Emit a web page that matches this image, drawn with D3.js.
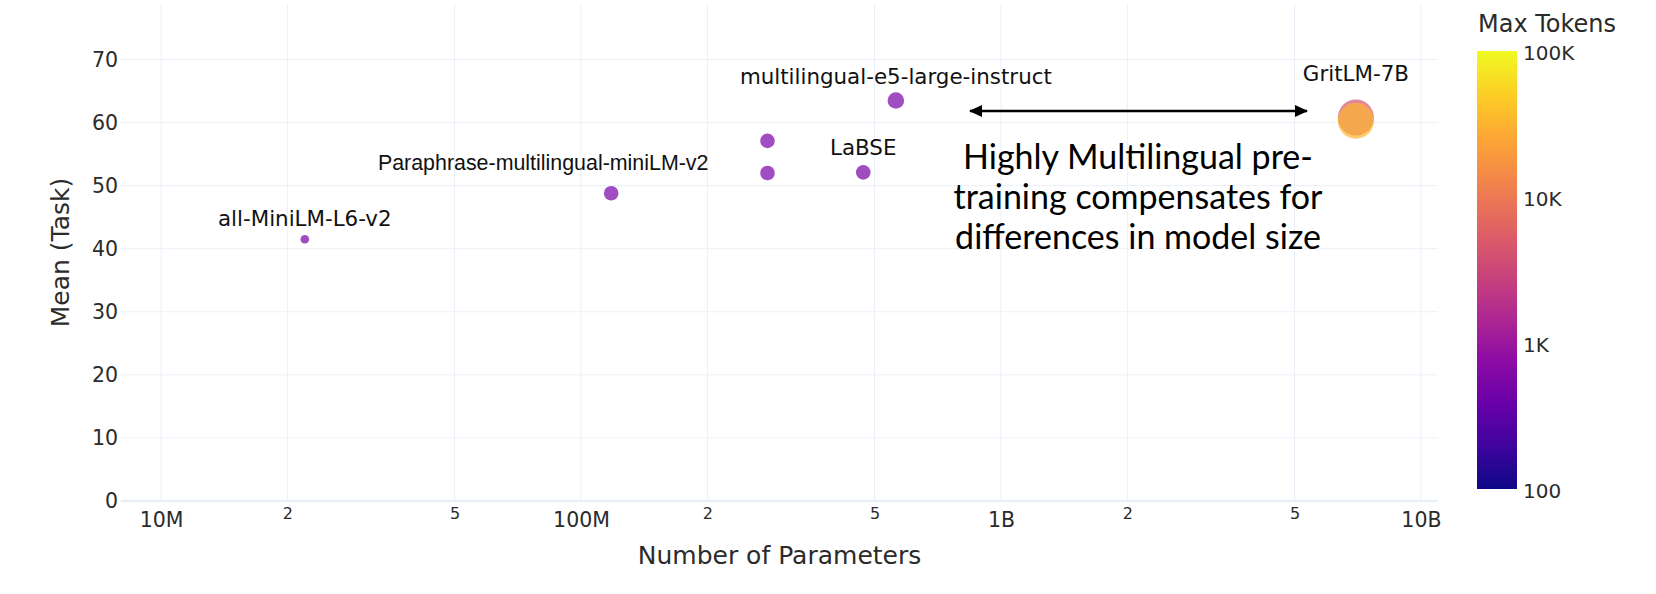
<!DOCTYPE html>
<html>
<head>
<meta charset="utf-8">
<script src="https://cdn.jsdelivr.net/npm/d3@7"></script>
<style>
  body { margin: 0; background: #fff; }
  svg { display: block; }
</style>
</head>
<body>
<div class="chart"></div>
<script>
// ---------------------------------- DATA
var models = ["all-MiniLM-L6-v2", "Paraphrase-multilingual-miniLM-v2", "multilingual-e5-base",
              "paraphrase-multilingual-mpnet-base-v2", "LaBSE", "multilingual-e5-large-instruct",
              "GritLM-7B", "GritLM-7B"];
var params = [22e6, 118e6, 278e6, 278e6, 470e6, 562e6, 7.0e9, 7.0e9];
var meanTask = [41.5, 48.8, 57.1, 52.0, 52.1, 63.5, 60.8, 60.3];
var maxTokens = [512, 512, 512, 512, 512, 512, 4096, 32768];
var bubbleSize = [0.35, 1, 1, 1, 1, 1.29, 6.1, 6.1];

var labelled = ["all-MiniLM-L6-v2", "Paraphrase-multilingual-miniLM-v2", "LaBSE",
                "multilingual-e5-large-instruct", "GritLM-7B"];

var yTicks = [0, 10, 20, 30, 40, 50, 60, 70];
var xMajor = [1e7, 1e8, 1e9, 1e10];
var xMajorLabels = ["10M", "100M", "1B", "10B"];
var xMinor = [2e7, 5e7, 2e8, 5e8, 2e9, 5e9];
var xMinorLabels = ["2", "5", "2", "5", "2", "5"];
var cbTicks = [100, 1000, 10000, 100000];
var cbLabels = ["100", "1K", "10K", "100K"];

var noteLines = ["Highly Multilingual pre-", "training compensates for", "differences in model size"];

// ---------------------------------- LAYOUT
var width = 1656, height = 594;
var plot = {left: 121, right: 1438, top: 4, bottom: 501};
var grid = "#EBF0F8";
var ink = "#2b2b2b";
var font = "'DejaVu Sans', Verdana, sans-serif";

var svg = d3.select(".chart").append("svg")
  .attr("width", width)
  .attr("height", height);

var x = d3.scaleLog()
  .domain([8.03e6, 1.098e10])
  .range([plot.left, plot.right]);

var y = d3.scaleLinear()
  .domain([0, 78.8])
  .range([plot.bottom, plot.top]);

var color = d3.scaleSequentialLog(d3.interpolatePlasma)
  .domain([100, 100000])
  .clamp(true);

var r = d3.scaleSqrt()
  .domain([0, 1])
  .range([0, 7.3]);

// ---------------------------------- GRID
var gridGroup = svg.append("g");

gridGroup.selectAll("line.vgrid")
  .data(xMajor.concat(xMinor))
  .enter().append("line")
    .attr("class", "vgrid")
    .attr("x1", function(d){ return x(d); })
    .attr("x2", function(d){ return x(d); })
    .attr("y1", plot.top)
    .attr("y2", plot.bottom)
    .attr("stroke", grid)
    .attr("stroke-width", 1);

gridGroup.selectAll("line.hgrid")
  .data(yTicks)
  .enter().append("line")
    .attr("class", "hgrid")
    .attr("x1", plot.left)
    .attr("x2", plot.right)
    .attr("y1", function(d){ return y(d); })
    .attr("y2", function(d){ return y(d); })
    .attr("stroke", grid)
    .attr("stroke-width", function(d){ return d === 0 ? 2.5 : 1; });

// ---------------------------------- AXES
var yAxis = d3.axisLeft(y).tickValues(yTicks).tickSize(0).tickPadding(3);
svg.append("g")
  .attr("class", "axis y")
  .attr("transform", "translate(" + plot.left + ",0)")
  .call(yAxis)
  .call(function(g){ g.select(".domain").remove(); })
  .selectAll("text")
    .attr("font-family", font)
    .attr("font-size", 20.5)
    .attr("fill", ink);

var xAxisMajor = d3.axisBottom(x).tickValues(xMajor).tickSize(0).tickPadding(11)
  .tickFormat(function(d, i){ return xMajorLabels[i]; });
svg.append("g")
  .attr("class", "axis x")
  .attr("transform", "translate(0," + plot.bottom + ")")
  .call(xAxisMajor)
  .call(function(g){ g.select(".domain").remove(); })
  .selectAll("text")
    .attr("font-family", font)
    .attr("font-size", 20.5)
    .attr("fill", ink);

var xAxisMinor = d3.axisBottom(x).tickValues(xMinor).tickSize(0).tickPadding(7)
  .tickFormat(function(d, i){ return xMinorLabels[i]; });
svg.append("g")
  .attr("class", "axis x minor")
  .attr("transform", "translate(0," + plot.bottom + ")")
  .call(xAxisMinor)
  .call(function(g){ g.select(".domain").remove(); })
  .selectAll("text")
    .attr("font-family", font)
    .attr("font-size", 16)
    .attr("fill", ink);

svg.append("text")
  .attr("x", (plot.left + plot.right) / 2)
  .attr("y", 564)
  .attr("text-anchor", "middle")
  .attr("font-family", font)
  .attr("font-size", 25)
  .attr("fill", ink)
  .text("Number of Parameters");

svg.append("text")
  .attr("transform", "translate(69," + ((plot.top + plot.bottom) / 2) + ") rotate(-90)")
  .attr("text-anchor", "middle")
  .attr("font-family", font)
  .attr("font-size", 25)
  .attr("fill", ink)
  .text("Mean (Task)");

// ---------------------------------- POINTS
var points = models.map(function(m, i){
  return {model: m, p: params[i], v: meanTask[i], t: maxTokens[i], s: bubbleSize[i]};
});

svg.append("g").selectAll("circle")
  .data(points)
  .enter().append("circle")
    .attr("cx", function(d){ return x(d.p); })
    .attr("cy", function(d){ return y(d.v); })
    .attr("r", function(d){ return r(d.s); })
    .attr("fill", function(d){ return color(d.t); })
    .attr("fill-opacity", 0.7);

// label placement relative to its point (layout only)
var labelOffset = {
  "all-MiniLM-L6-v2": [0, -13],
  "Paraphrase-multilingual-miniLM-v2": [-68, -23],
  "LaBSE": [0, -17],
  "multilingual-e5-large-instruct": [0, -16],
  "GritLM-7B": [0, -37]
};

svg.append("g").selectAll("text")
  .data(points.filter(function(d, i){
    return labelled.indexOf(d.model) >= 0 && models.indexOf(d.model) === i;
  }))
  .enter().append("text")
    .attr("x", function(d){ return x(d.p) + labelOffset[d.model][0]; })
    .attr("y", function(d){ return y(d.v) + labelOffset[d.model][1]; })
    .attr("text-anchor", "middle")
    .attr("font-family", function(d){
      return d.model.indexOf("Paraphrase") === 0 ? "'Liberation Sans', Arial, sans-serif" : font;
    })
    .attr("font-size", 21.4)
    .attr("fill", "#111")
    .text(function(d){ return d.model; });

// ---------------------------------- ANNOTATION
var defs = svg.append("defs");
defs.append("marker")
  .attr("id", "arrHead")
  .attr("viewBox", "0 0 13 12")
  .attr("refX", 12)
  .attr("refY", 6)
  .attr("markerUnits", "userSpaceOnUse")
  .attr("markerWidth", 13)
  .attr("markerHeight", 12)
  .attr("orient", "auto-start-reverse")
  .append("path")
    .attr("d", "M0,0 L13,6 L0,12 z")
    .attr("fill", "#000");

svg.append("line")
  .attr("x1", 970).attr("x2", 1307)
  .attr("y1", 111).attr("y2", 111)
  .attr("stroke", "#000")
  .attr("stroke-width", 2.5)
  .attr("marker-start", "url(#arrHead)")
  .attr("marker-end", "url(#arrHead)");

svg.append("text")
  .attr("x", 1138)
  .attr("y", 169)
  .attr("text-anchor", "middle")
  .attr("font-family", "Lato, 'Open Sans', sans-serif")
  .attr("font-size", 34)
  .attr("fill", "#000")
  .selectAll("tspan")
  .data(noteLines)
  .enter().append("tspan")
    .attr("x", 1138)
    .attr("dy", function(d, i){ return i === 0 ? 0 : 40; })
    .text(function(d){ return d; });

// ---------------------------------- COLORBAR
var cb = {x: 1477, w: 40, top: 51, bottom: 489};
var cbScale = d3.scaleLog().domain([100, 100000]).range([cb.bottom, cb.top]);

var grad = defs.append("linearGradient")
  .attr("id", "cbGrad")
  .attr("x1", 0).attr("x2", 0).attr("y1", 1).attr("y2", 0);
d3.range(0, 1.0001, 0.1).forEach(function(t){
  grad.append("stop")
    .attr("offset", t)
    .attr("stop-color", d3.interpolatePlasma(t));
});

svg.append("rect")
  .attr("x", cb.x).attr("y", cb.top)
  .attr("width", cb.w).attr("height", cb.bottom - cb.top)
  .attr("fill", "url(#cbGrad)");

var cbAxis = d3.axisRight(cbScale).tickValues(cbTicks).tickSize(0).tickPadding(6)
  .tickFormat(function(d, i){ return cbLabels[i]; });
svg.append("g")
  .attr("transform", "translate(" + (cb.x + cb.w) + ",0)")
  .call(cbAxis)
  .call(function(g){ g.select(".domain").remove(); })
  .selectAll("text")
    .attr("font-family", font)
    .attr("font-size", 20)
    .attr("fill", ink)
    .attr("dy", "0.42em");

svg.append("text")
  .attr("x", 1478)
  .attr("y", 32)
  .attr("font-family", font)
  .attr("font-size", 24)
  .attr("fill", ink)
  .text("Max Tokens");
</script>
</body>
</html>
